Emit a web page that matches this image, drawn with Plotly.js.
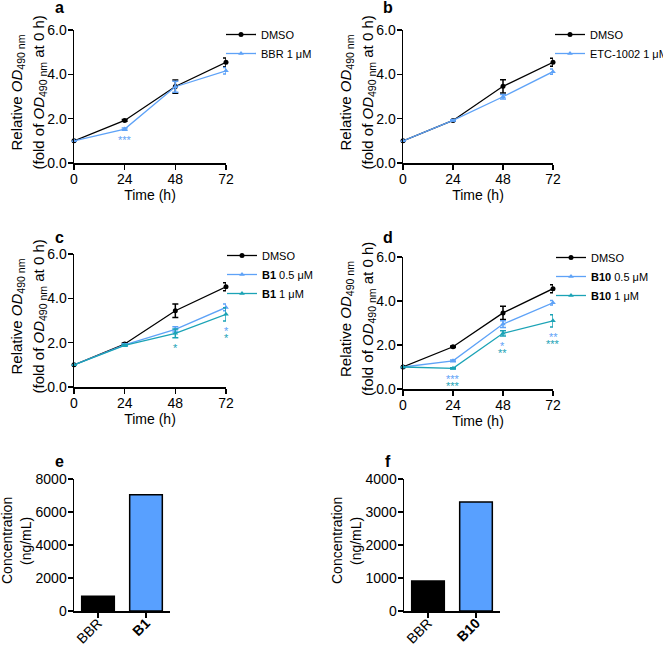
<!DOCTYPE html>
<html><head><meta charset="utf-8">
<script src="https://cdn.plot.ly/plotly-3.0.1.min.js"></script>
<style>
html,body{margin:0;padding:0;background:#fff;width:663px;height:647px;overflow:hidden;}
#chart{width:663px;height:647px;overflow:hidden;position:relative;}
</style>
</head><body><div id="chart"></div>
<script>
// ---------- data ----------
const hours = [0, 24, 48, 72];
const hourTicks = ['0', '24', '48', '72'];

const dmsoA = [1.00, 1.92, 3.45, 4.54];
const dmsoAErr = [0, 0.04, 0.30, 0.20];
const bbr = [1.00, 1.53, 3.44, 4.16];
const bbrErr = [0, 0.05, 0.25, 0.15];
const sigBbr = ['', '***', '', ''];

const dmsoB = [1.00, 1.92, 3.46, 4.54];
const dmsoBErr = [0, 0.03, 0.30, 0.18];
const etc = [1.00, 1.92, 2.99, 4.12];
const etcErr = [0, 0.03, 0.10, 0.12];

const dmsoC = [1.00, 1.94, 3.44, 4.52];
const dmsoCErr = [0, 0.04, 0.30, 0.18];
const b1Low = [1.00, 1.90, 2.60, 3.59];
const b1LowErr = [0, 0.05, 0.12, 0.15];
const b1High = [1.00, 1.88, 2.42, 3.28];
const b1HighErr = [0, 0.04, 0.20, 0.30];
const sigB1Low = ['', '', '', '*'];
const sigB1High = ['', '', '*', '*'];

const dmsoD = [1.00, 1.92, 3.46, 4.56];
const dmsoDErr = [0, 0.03, 0.30, 0.18];
const b10Low = [1.00, 1.28, 2.95, 3.92];
const b10LowErr = [0, 0.04, 0.15, 0.10];
const b10High = [1.00, 0.94, 2.53, 3.10];
const b10HighErr = [0, 0.03, 0.12, 0.28];
const sigB10Low = ['', '***', '*', '**'];
const sigB10High = ['', '***', '**', '***'];

const drugsE = ['BBR', '<b>B1</b>'];
const concE = [900, 7050];
const drugsF = ['BBR', '<b>B10</b>'];
const concF = [910, 3300];

// ---------- styles ----------
const W = 663, H = 647;
const BLACK = '#000000', LBLUE = '#5ea2f7', TEAL = '#1ba3b6', BARBLUE = '#58a0ff';
const FONT = 'Liberation Sans, Arial, sans-serif';
const px = v => v / W, py = v => 1 - v / H;

function line(x, y, err, name, color, symbol, xa, ya, legend) {
  return {
    type: 'scatter', mode: 'lines+markers', x: x, y: y, name: name,
    xaxis: xa, yaxis: ya, legend: legend, cliponaxis: false,
    line: {color: color, width: 1.3},
    marker: {color: color, symbol: symbol, size: 5},
    error_y: {type: 'data', array: err, visible: true, color: color, thickness: 1.5, width: 3}
  };
}
const traces = [
  line(hours, dmsoA, dmsoAErr, 'DMSO', BLACK, 'circle', 'x', 'y', 'legend'),
  line(hours, bbr, bbrErr, 'BBR 1 μM', LBLUE, 'triangle-up', 'x', 'y', 'legend'),
  line(hours, dmsoB, dmsoBErr, 'DMSO', BLACK, 'circle', 'x2', 'y2', 'legend2'),
  line(hours, etc, etcErr, 'ETC-1002 1 μM', LBLUE, 'triangle-up', 'x2', 'y2', 'legend2'),
  line(hours, dmsoC, dmsoCErr, 'DMSO', BLACK, 'circle', 'x3', 'y3', 'legend3'),
  line(hours, b1Low, b1LowErr, '<b>B1</b> 0.5 μM', LBLUE, 'triangle-up', 'x3', 'y3', 'legend3'),
  line(hours, b1High, b1HighErr, '<b>B1</b> 1 μM', TEAL, 'triangle-up', 'x3', 'y3', 'legend3'),
  line(hours, dmsoD, dmsoDErr, 'DMSO', BLACK, 'circle', 'x4', 'y4', 'legend4'),
  line(hours, b10Low, b10LowErr, '<b>B10</b> 0.5 μM', LBLUE, 'triangle-up', 'x4', 'y4', 'legend4'),
  line(hours, b10High, b10HighErr, '<b>B10</b> 1 μM', TEAL, 'triangle-up', 'x4', 'y4', 'legend4'),
  {type: 'bar', x: drugsE, y: concE, xaxis: 'x5', yaxis: 'y5', width: 0.68, showlegend: false,
   marker: {color: [BLACK, BARBLUE], line: {color: BLACK, width: 1.5}}},
  {type: 'bar', x: drugsF, y: concF, xaxis: 'x6', yaxis: 'y6', width: 0.68, showlegend: false,
   marker: {color: [BLACK, BARBLUE], line: {color: BLACK, width: 1.5}}}
];

const axBase = {
  showgrid: false, zeroline: false, showline: true, linecolor: BLACK, linewidth: 1.5,
  ticks: 'outside', ticklen: 5, tickwidth: 1.5, tickcolor: BLACK, automargin: false,
  tickfont: {family: FONT, size: 14, color: BLACK}, fixedrange: true
};
function xTime(l, r, anchor) {
  return Object.assign({}, axBase, {domain: [px(l), px(r)], anchor: anchor, range: [0, 72],
    tickvals: hours, ticktext: hourTicks, ticklabelstandoff: -2,
    title: {text: 'Time (h)', font: {family: FONT, size: 14, color: BLACK}, standoff: 2}});
}
function yOD(t, b, anchor) {
  return Object.assign({}, axBase, {domain: [py(b), py(t)], anchor: anchor, range: [0, 6],
    dtick: 2, tickformat: '.1f', ticklabelstandoff: -2});
}
function xBar(l, r, anchor) {
  return Object.assign({}, axBase, {domain: [px(l), px(r)], anchor: anchor, type: 'category',
    range: [-0.5, 1.5], tickangle: -45, ticklabelstandoff: -8});
}
function yBar(t, b, anchor, max, dt) {
  return Object.assign({}, axBase, {domain: [py(b), py(t)], anchor: anchor, range: [0, max],
    dtick: dt, ticklabelstandoff: -2});
}
function legendAt(l, t) {
  return {x: px(l), y: py(t), xanchor: 'left', yanchor: 'top', bgcolor: 'rgba(0,0,0,0)',
    font: {family: FONT, size: 11, color: BLACK}, itemwidth: 30, tracegroupgap: 0};
}

const annotations = [];
// two-line rotated y titles
const odLine1 = 'Relative <i>OD</i><sub>490 nm</sub>';
const odLine2 = '(fold of <i>OD</i><sub>490 nm</sub> at 0 h)';
function yTitle(axisX, top, bottom, l1, l2, size, dx1, dx2) {
  const yc = (top + bottom) / 2 - 4;
  [[l1, dx1], [l2, dx2]].forEach(p => annotations.push({xref: 'paper', yref: 'paper',
    x: px(axisX + p[1]), y: py(yc), text: p[0], textangle: -90, showarrow: false,
    xanchor: 'center', yanchor: 'middle', font: {family: FONT, size: size, color: BLACK}}));
}
yTitle(74, 30, 163, odLine1, odLine2, 15, -57, -35);
yTitle(403, 30, 163, odLine1, odLine2, 15, -57, -35);
yTitle(74, 254, 387, odLine1, odLine2, 15, -57, -35);
yTitle(403, 257, 389, odLine1, odLine2, 15, -57, -35);
yTitle(74, 479, 611, 'Concentration', '(ng/mL)', 14, -67, -48);
yTitle(404, 479, 611, 'Concentration', '(ng/mL)', 14, -67, -48);

// significance stars, stacked under the lowest error-bar end at each time point
function stars(xa, ya, groups) {
  hours.forEach((h, i) => {
    let low = Infinity;
    groups.forEach(g => { low = Math.min(low, g.y[i] - g.err[i]); });
    let row = 0;
    groups.forEach(g => {
      if (!g.sig || !g.sig[i]) return;
      annotations.push({x: h, y: low, xref: xa, yref: ya, text: g.sig[i], showarrow: false,
        yanchor: 'middle', yshift: -10 - 7 * row, font: {family: FONT, size: 11, color: g.color}});
      row++;
    });
  });
}
stars('x', 'y', [{y: dmsoA, err: dmsoAErr}, {y: bbr, err: bbrErr, sig: sigBbr, color: LBLUE}]);
stars('x3', 'y3', [{y: b1Low, err: b1LowErr, sig: sigB1Low, color: LBLUE}, {y: b1High, err: b1HighErr, sig: sigB1High, color: TEAL}]);
stars('x4', 'y4', [{y: b10Low, err: b10LowErr, sig: sigB10Low, color: LBLUE}, {y: b10High, err: b10HighErr, sig: sigB10High, color: TEAL}]);

const panelLabels = [['a', 59, 8], ['b', 388, 8], ['c', 59, 237], ['d', 388, 237], ['e', 59, 461], ['f', 388, 461]];
panelLabels.forEach(p => annotations.push({xref: 'paper', yref: 'paper', x: px(p[1]), y: py(p[2]),
  text: '<b>' + p[0] + '</b>', showarrow: false, xanchor: 'center', yanchor: 'middle',
  font: {family: FONT, size: 16, color: BLACK}}));

const layout = {
  width: W, height: H, margin: {l: 0, r: 0, t: 0, b: 0, pad: 0, autoexpand: false},
  paper_bgcolor: '#fff', plot_bgcolor: 'rgba(0,0,0,0)', showlegend: true,
  font: {family: FONT, color: BLACK},
  xaxis: xTime(74, 226, 'y'), yaxis: yOD(30, 163, 'x'),
  xaxis2: xTime(403, 553, 'y2'), yaxis2: yOD(30, 163, 'x2'),
  xaxis3: xTime(74, 226, 'y3'), yaxis3: yOD(254, 387, 'x3'),
  xaxis4: xTime(403, 553, 'y4'), yaxis4: yOD(257, 389, 'x4'),
  xaxis5: xBar(74, 170, 'y5'), yaxis5: yBar(479, 611, 'x5', 8000, 2000),
  xaxis6: xBar(404, 500, 'y6'), yaxis6: yBar(479, 611, 'x6', 4000, 1000),
  legend: legendAt(221, 20), legend2: legendAt(550, 20),
  legend3: legendAt(222, 241), legend4: legendAt(551, 243),
  annotations: annotations
};
Plotly.newPlot('chart', traces, layout, {staticPlot: true, displayModeBar: false});
</script></body></html>
